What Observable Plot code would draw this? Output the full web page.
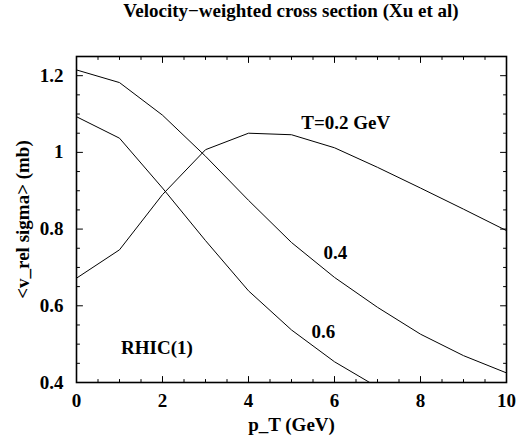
<!DOCTYPE html>
<html>
<head>
<meta charset="utf-8">
<script src="https://cdn.jsdelivr.net/npm/d3@7"></script>
<script src="https://cdn.jsdelivr.net/npm/@observablehq/plot@0.6"></script>
<style>
  body { margin: 0; background: #fff; }
  #title { width: 523px; height: 26px; line-height: 24px; box-sizing: border-box; padding-left: 59px;
           text-align: center; font: bold 19px "Liberation Serif", serif; color: #000; }
</style>
</head>
<body>
<div id="title">Velocity−weighted cross section (Xu et al)</div>
<div id="chart"></div>
<script>
// ---- data ----
const pT = [0, 1, 2, 3, 4, 5, 6, 7, 8, 9, 10];
const sigmaT02 = [0.672, 0.746, 0.89, 1.007, 1.05, 1.046, 1.012, 0.961, 0.907, 0.852, 0.796];
const sigmaT04 = [1.215, 1.182, 1.097, 0.99, 0.875, 0.765, 0.674, 0.596, 0.526, 0.47, 0.425];
const pT06 = [0, 1, 2, 3, 4, 5, 6, 7];
const sigmaT06 = [1.093, 1.037, 0.907, 0.77, 0.639, 0.537, 0.454, 0.388];

const xMajor = [0, 2, 4, 6, 8, 10];
const xMinor = [0.5, 1, 1.5, 2.5, 3, 3.5, 4.5, 5, 5.5, 6.5, 7, 7.5, 8.5, 9, 9.5];
const yMajor = [0.4, 0.6, 0.8, 1, 1.2];
const yMinor = [0.45, 0.5, 0.55, 0.65, 0.7, 0.75, 0.85, 0.9, 0.95, 1.05, 1.1, 1.15];

const xLabel = "p_T (GeV)";
const yLabel = "<v_rel sigma> (mb)";

const annText = ["T=0.2 GeV", "0.4", "0.6", "RHIC(1)"];
const annX = [6.26, 6.02, 5.74, 1.87];
const annY = [1.078, 0.739, 0.533, 0.49];

// ---- tables built from the arrays ----
const rows = [
  ...pT.map((x, i) => ({series: "T=0.2", x, y: sigmaT02[i]})),
  ...pT.map((x, i) => ({series: "T=0.4", x, y: sigmaT04[i]})),
  ...pT06.map((x, i) => ({series: "T=0.6", x, y: sigmaT06[i]}))
];
const ann = annText.map((t, i) => ({t, x: annX[i], y: annY[i]}));

// inward tick marks drawn as vectors anchored on the frame edges
const tickShape = {draw(context, l) { context.moveTo(0, 0); context.lineTo(0, -l); }};
const tickStyle = {anchor: "start", shape: tickShape, stroke: "#000", strokeWidth: 1};
const xTicks = (values, len) => [
  Plot.vector(values, {x: d => d, frameAnchor: "bottom", length: len, rotate: 0, ...tickStyle}),
  Plot.vector(values, {x: d => d, frameAnchor: "top", length: len, rotate: 180, ...tickStyle})
];
const yTicks = (values, len) => [
  Plot.vector(values, {y: d => d, frameAnchor: "left", length: len, rotate: 90, ...tickStyle}),
  Plot.vector(values, {y: d => d, frameAnchor: "right", length: len, rotate: -90, ...tickStyle})
];

const chart = Plot.plot({
  width: 523,
  height: 415,
  marginLeft: 76,
  marginRight: 17,
  marginTop: 30,
  marginBottom: 59,
  style: {fontFamily: "'Liberation Serif', serif", fontSize: "19px", fontWeight: "bold", color: "#000", background: "#fff"},
  x: {domain: [0, 10]},
  y: {domain: [0.4, 1.25]},
  marks: [
    Plot.line(rows, {x: "x", y: "y", z: "series", stroke: "#000", strokeWidth: 1, clip: true}),
    ...xTicks(xMajor, 6),
    ...xTicks(xMinor, 3),
    ...yTicks(yMajor, 6),
    ...yTicks(yMinor, 3),
    Plot.frame({stroke: "#000", strokeWidth: 1.6}),
    // tick labels
    Plot.axisX(xMajor, {anchor: "bottom", tickSize: 0, tickPadding: 11, label: null, tickFormat: String}),
    Plot.axisY(yMajor, {anchor: "left", tickSize: 0, tickPadding: 13, label: null, tickFormat: String}),
    // axis titles
    Plot.text([xLabel], {frameAnchor: "bottom", dy: 48, text: d => d, fontSize: 19, fontWeight: "bold"}),
    Plot.text([yLabel], {frameAnchor: "left", dx: -54, rotate: -90, textAnchor: "middle", text: d => d, fontSize: 19, fontWeight: "bold"}),
    // curve annotations
    Plot.text(ann, {x: "x", y: "y", text: "t", fontSize: 19, fontWeight: "bold", fill: "#000"})
  ]
});
document.getElementById("chart").appendChild(chart);
</script>
</body>
</html>
